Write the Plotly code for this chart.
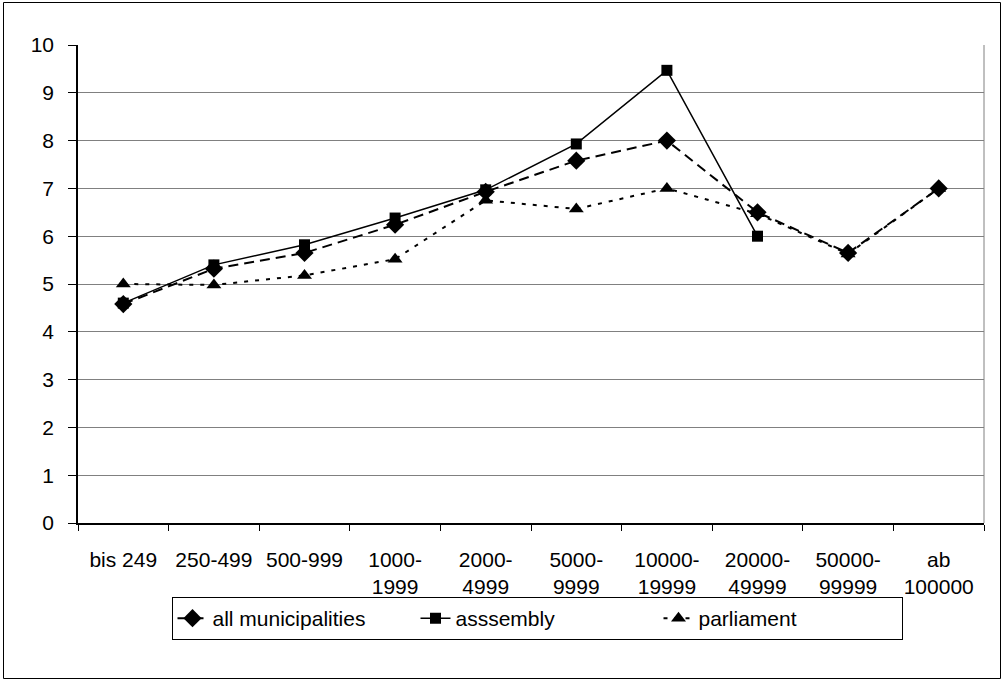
import plotly.graph_objects as go

categories = ["bis 249", "250-499", "500-999", "1000-<br>1999", "2000-<br>4999",
              "5000-<br>9999", "10000-<br>19999", "20000-<br>49999", "50000-<br>99999", "ab<br>100000"]
all_municipalities = [4.58, 5.32, 5.65, 6.24, 6.93, 7.58, 8.0, 6.5, 5.65, 7.0]
assembly = [4.6, 5.4, 5.82, 6.38, 6.97, 7.93, 9.47, 6.0, None, None]
parliament = [5.0, 4.98, 5.18, 5.52, 6.75, 6.57, 7.0, 6.47, 5.63, 7.0]
y_ticks = list(range(0, 11))

W, H = 1005, 681
L, R, T, B = 78, 21, 45, 158
pw, ph = W - L - R, H - T - B

def px_x(px):
    return (px - L) / pw

def px_y(py):
    return (H - B - py) / ph

fig = go.Figure()
fig.add_trace(go.Scatter(
    x=categories, y=all_municipalities, name="all municipalities", mode="lines+markers",
    line=dict(color="black", width=2, dash="10px,6px"),
    marker=dict(symbol="diamond", size=14, color="black")))
fig.add_trace(go.Scatter(
    x=categories, y=assembly, name="asssembly", mode="lines+markers",
    line=dict(color="black", width=1.5),
    marker=dict(symbol="square", size=11, color="black")))
fig.add_trace(go.Scatter(
    x=categories, y=parliament, name="parliament", mode="lines+markers",
    line=dict(color="black", width=2, dash="4px,7px"),
    marker=dict(symbol="triangle-up", size=13, color="black")))

font = dict(family="Liberation Sans, Arial, sans-serif", size=21, color="black")

fig.update_layout(
    width=W, height=H,
    margin=dict(l=L, r=R, t=T, b=B),
    paper_bgcolor="white", plot_bgcolor="white",
    font=font,
    showlegend=True,
    legend=dict(orientation="h", x=px_x(537), xanchor="center", y=px_y(597), yanchor="top",
                bordercolor="black", borderwidth=1, bgcolor="white",
                font=font, entrywidth=198, entrywidthmode="pixels"),
    xaxis=dict(type="category", categoryorder="array", categoryarray=categories,
               range=[-0.5, 9.5], tickson="boundaries", ticks="outside", ticklen=6,
               tickcolor="black", showline=True, linecolor="black", linewidth=1.5,
               showgrid=False, zeroline=False, tickfont=font, fixedrange=True,
               ticklabelstandoff=17),
    yaxis=dict(range=[0, 10], tickvals=y_ticks, ticks="outside", ticklen=8,
               tickcolor="black", showline=True, linecolor="black", linewidth=1.5,
               showgrid=True, gridcolor="#808080", gridwidth=1, zeroline=False,
               tickfont=font, fixedrange=True, ticklabelstandoff=10),
    shapes=[
        dict(type="rect", xref="paper", yref="paper",
             x0=px_x(3.5), x1=px_x(1000.5), y0=px_y(678.5), y1=px_y(2.5),
             line=dict(color="black", width=1), layer="below"),
        dict(type="line", xref="paper", yref="paper", x0=1, x1=1, y0=0, y1=1,
             line=dict(color="#808080", width=1), layer="below"),
    ],
)

fig.write_html("out.html")
